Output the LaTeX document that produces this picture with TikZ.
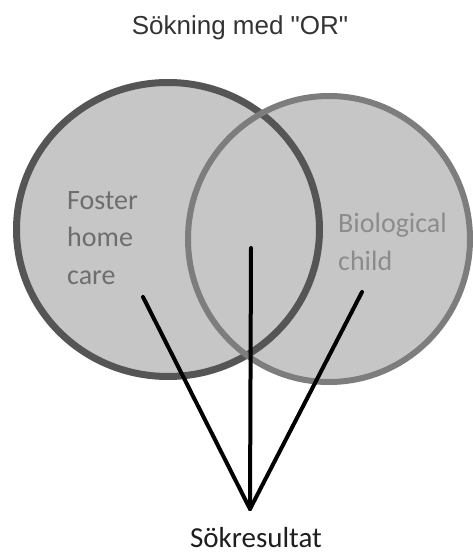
\documentclass[tikz,border=0pt]{standalone}
\usepackage{fontspec}
\setmainfont{Carlito}
\newfontfamily\arialfont{Liberation Sans}
\usetikzlibrary{positioning, shapes.geometric}
\definecolor{vennfill}{RGB}{198,198,198}
\definecolor{fosterline}{RGB}{85,85,85}
\definecolor{bioline}{RGB}{125,125,125}
\definecolor{fostertext}{RGB}{110,110,110}
\definecolor{biotext}{RGB}{140,140,140}
\tikzset{vset/.style={ellipse, fill=vennfill, inner sep=0pt}}
\tikzset{vrim/.style={draw=#1, line width=7pt}}
\tikzset{vlabel/.style={align=left, anchor=base west, inner sep=0pt, font=\fontsize{28}{37.5}\selectfont}}
\tikzset{leg/.style={draw, line width=4pt, line cap=round, line join=miter}}

\begin{document}
\begin{tikzpicture}[x=1pt, y=-1pt]
	\useasboundingbox (0,0) rectangle (472,554);
	% the two sets
	\node[vset, minimum width=303pt, minimum height=294pt] (foster) at (168,229.5) {};
	\node[vset, minimum width=282pt, minimum height=286pt] (bio) at (329,239) {};
	\draw[vrim=fosterline] (foster.center) ellipse [x radius=151.5, y radius=147];
	\draw[vrim=bioline, line width=6pt] (bio.center) ellipse [x radius=141, y radius=143];
	% labels
	\node[vlabel, text=fostertext] (fosterlbl) at (67,284) {Foster\\home\\care};
	\node[vlabel, text=biotext] (biolbl) at (338,270) {Biological\\child};
	\node[anchor=base, inner sep=0pt, text={rgb,255:red,51;green,51;blue,51},
		font=\arialfont\fontsize{26}{30}\selectfont] (title) at (240,34) {Sökning med "OR"};
	\node[anchor=base, inner sep=0pt, text={rgb,255:red,30;green,30;blue,30},
		font=\fontsize{29}{34}\selectfont] (result) at (256,547) {Sökresultat};
	% legs
	\coordinate (apex) at (250,509);
	\coordinate (fosterpt) at (143,297);
	\coordinate (bothpt) at (251,248);
	\coordinate (biopt) at (362,292);
	\draw[leg] (fosterpt) -- (apex);
	\draw[leg] (bothpt) -- (apex);
	\draw[leg] (biopt) -- (apex);
\end{tikzpicture}
\end{document}
